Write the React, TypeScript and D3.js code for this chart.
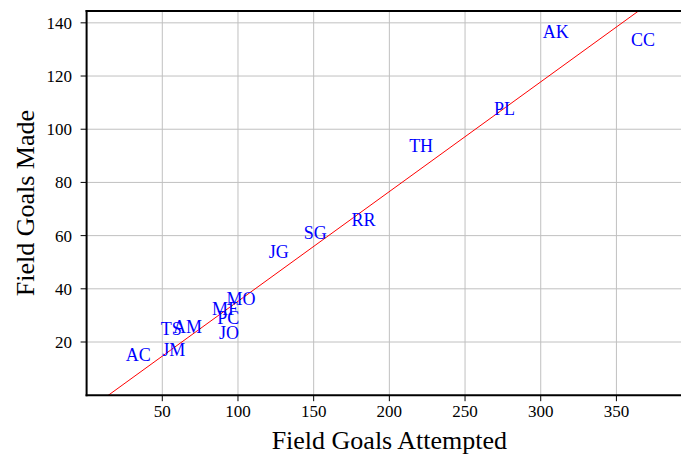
import React from "react";
import * as d3 from "d3";

const players = ["AK", "CC", "PL", "TH", "RR", "SG", "JG", "MO", "MF", "PC", "JO", "AM", "TS", "JM", "AC"];
const attempted = [310, 367.5, 276, 221, 183, 151, 127, 102, 91.5, 93.6, 94, 66.6, 56, 57.6, 34.2];
const made = [136.5, 133.5, 107.7, 93.7, 65.7, 60.9, 53.9, 36.1, 32.2, 28.9, 23.3, 25.6, 24.9, 17.1, 15.2];
const xTicks = [50, 100, 150, 200, 250, 300, 350];
const yTicks = [20, 40, 60, 80, 100, 120, 140];
const fitSlope = 0.4125;
const fitIntercept = -5.94;

const W = 700;
const H = 458;
const left = 86.6;
const right = 692.1;
const top = 11;
const bottom = 395.2;
const font = "'Liberation Serif', 'Times New Roman', Times, serif";

export default function App() {
  const x = d3.scaleLinear().domain([0, 400]).range([left, right]);
  const y = d3.scaleLinear().domain([0, 144.45]).range([bottom, top]);
  const lx0 = 0;
  const lx1 = 400;
  const line = d3.line<number>().x((d) => x(d)).y((d) => y(fitSlope * d + fitIntercept));
  return (
    <svg
      width={W}
      height={H}
      style={{ position: "absolute", left: 0, top: 0, background: "#fff" }}
    >
      <defs>
        <clipPath id="plotclip">
          <rect x={left} y={top} width={right - left} height={bottom - top} />
        </clipPath>
      </defs>
      <rect x={0} y={0} width={W} height={H} fill="#fff" />
      {/* grid */}
      <g stroke="#c0c0c0" strokeWidth={1}>
        {xTicks.map((t) => (
          <line key={"gx" + t} x1={x(t)} x2={x(t)} y1={top} y2={bottom} />
        ))}
        {yTicks.map((t) => (
          <line key={"gy" + t} x1={left} x2={right} y1={y(t)} y2={y(t)} />
        ))}
      </g>
      {/* fit line */}
      <path
        d={line([lx0, lx1]) || ""}
        stroke="#ff0000"
        strokeWidth={1}
        fill="none"
        clipPath="url(#plotclip)"
      />
      {/* labels */}
      <g fontFamily={font} fontSize={18} fill="#0000ff" textAnchor="middle">
        {players.map((p, i) => (
          <text key={p} x={x(attempted[i])} y={y(made[i])} dy="0.33em">
            {p}
          </text>
        ))}
      </g>
      {/* axes frame */}
      <g stroke="#000" strokeWidth={2} fill="none">
        <line x1={left} x2={left} y1={top - 1} y2={bottom + 1} />
        <line x1={left - 1} x2={right + 1} y1={bottom} y2={bottom} />
        <line x1={left - 1} x2={right + 1} y1={top} y2={top} />
        <line x1={right} x2={right} y1={top} y2={bottom} />
      </g>
      {/* ticks */}
      <g stroke="#000" strokeWidth={1}>
        {xTicks.map((t) => (
          <line key={"tx" + t} x1={x(t)} x2={x(t)} y1={bottom} y2={bottom + 6} />
        ))}
        {yTicks.map((t) => (
          <line key={"ty" + t} x1={left - 6} x2={left} y1={y(t)} y2={y(t)} />
        ))}
      </g>
      <g fontFamily={font} fontSize={17} fill="#000">
        {xTicks.map((t) => (
          <text key={"lx" + t} x={x(t)} y={417} textAnchor="middle">
            {t}
          </text>
        ))}
        {yTicks.map((t) => (
          <text key={"ly" + t} x={72} y={y(t)} dy="0.35em" textAnchor="end">
            {t}
          </text>
        ))}
      </g>
      <text
        x={(left + right) / 2}
        y={449}
        textAnchor="middle"
        fontFamily={font}
        fontSize={26}
        fill="#000"
      >
        Field Goals Attempted
      </text>
      <text
        transform={`translate(33.5, ${(top + bottom) / 2}) rotate(-90)`}
        textAnchor="middle"
        fontFamily={font}
        fontSize={26}
        fill="#000"
      >
        Field Goals Made
      </text>
    </svg>
  );
}
